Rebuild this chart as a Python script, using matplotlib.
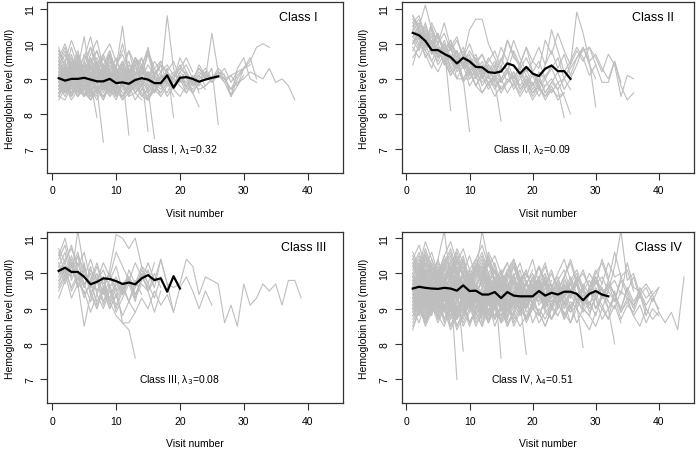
import matplotlib
matplotlib.use("Agg")
import matplotlib.pyplot as plt

plt.rcParams["font.family"] = ["Liberation Sans", "DejaVu Sans"]

# Individual hemoglobin trajectories (mmol/l), one string per patient, visit 1, 2, ...
CLASS_I = [
    "9.9 9.3 8.8 9.5 9.0 8.7 9.4 9.1 8.8 9.3 8.9 8.6 9.2 9.0",
    "8.4 8.7 8.5 8.9 8.6 8.4 8.8 8.5 8.7 8.4 8.9 8.5 8.6 8.8 8.4 8.7 8.5",
    "9.5 9.1 9.6 9.2 8.9 9.4 9.0 9.7 9.2 8.9 9.5 9.1 9.0 9.4 8.8 9.2 9.0 10.8 9.3 8.9 9.1 9.0",
    "8.9 9.1 8.6 9.0 8.8 9.2 8.7 7.2",
    "9.2 8.8 9.0 8.6 9.1 8.9 7.9",
    "9.0 8.7 9.3 8.9 9.1 8.8 9.2 8.6 9.0 8.7 9.1 7.4",
    "8.6 9.0 8.5 8.8 9.2 8.7 8.5 9.0 8.6 8.9 8.4 8.8 9.0 8.5 8.7 7.3",
    "9.4 9.8 9.2 9.6 9.0 9.5 9.3 8.9 9.7 9.2 9.4 9.0 9.6 9.1 7.5",
    "8.8 9.2 8.9 9.4 8.7 9.1 8.9 9.3 8.6 9.0 8.8 9.2 8.9 9.1 8.7 9.0 8.8 9.3 7.9",
    "9.1 8.8 9.3 9.0 8.7 9.2 8.9 9.4 9.0 8.8 9.1 8.7 9.0 9.3 8.9 9.1 8.8 9.0 9.2 8.9 9.1 8.6 8.2",
    "9.0 9.3 8.9 9.1 8.7 9.0 9.4 8.8 9.1 8.9 9.2 9.0 8.8 9.3 9.1 8.9 9.2 8.8 9.0 9.4 9.1 8.9 9.2 9.0 9.3 7.7",
    "9.3 9.0 9.6 9.2 8.8 9.1 9.5 9.0 8.9 9.3 10.5 9.1 8.8 9.2 9.0",
    "8.7 9.0 9.4 8.8 9.1 9.6 8.9 9.2 8.7 9.0 9.3 8.8 9.0 9.4 9.1 8.8 9.0 9.2 8.9 9.1 8.8 9.0 9.3 9.0 10.3 9.2",
    "9.6 10.0 9.4 9.8 9.2 9.7 10.1 9.3 9.6 9.0 9.4 9.8 9.1",
    "8.5 8.8 8.6 9.0 8.5 8.7 8.9 8.4 8.8 8.6 8.5 8.9 8.6 8.4",
    "9.2 9.5 8.9 9.3 10.2 9.0 9.4 8.8 9.2 9.6 9.0 8.9 9.3 9.1 9.7 9.0 8.8 9.2 9.5 9.0 8.9",
    "8.9 8.6 9.1 8.7 8.5 9.0 8.6 8.8 9.2 8.5 8.7 9.0 8.6 8.9 8.4 8.7 8.9 8.5 8.8 9.0 8.6 8.9 8.7 8.8 9.0 9.1 8.9 8.5 8.8 9.3 9.6 9.0",
    "9.4 9.0 9.2 9.7 9.1 8.8 9.3 9.0 9.5 9.2 8.9 9.4 9.1 9.6 9.0 9.3 9.5 9.1 8.8 9.2 9.4 9.0 9.3 9.1 9.0 9.2 9.0 9.1 9.2 9.3 9.5 9.9 10.0 9.9",
    "8.6 8.9 9.3 8.7 9.0 8.5 8.8 9.1 8.6 8.9 9.2 8.7 9.0 8.8 9.1 8.6 8.9 9.2 8.8 9.1 8.7 9.0 8.8 9.2 9.0 9.1 9.0 8.7 8.9 9.0 9.2 9.1 9.0 9.3 8.9 9.0 8.8 8.4",
    "9.8 9.3 9.7 9.0 9.5 9.9 9.2 9.6 9.1 9.4 9.8",
    "8.8 8.5 8.9 8.6 9.0 8.7 8.4 8.8 8.5 8.9 8.6",
    "9.1 9.4 9.0 9.3 8.8 9.2 9.5 9.0 9.3 8.9 9.2 9.0 9.4 8.9 9.1 9.3 8.9 9.1 9.0 9.6 9.2 8.9 9.4 9.1 9.0 9.3 9.1 8.5 9.0 9.3 9.4",
    "8.5 8.4 8.8 8.5 8.7 8.4 8.6 8.9 8.5 8.7 8.4 8.6 8.8 8.5 8.4 8.7",
    "9.0 8.6 9.2 8.8 9.5 8.9 9.1 8.7 9.4 9.0 8.8 9.3 8.9",
    "9.3 9.7 9.1 9.5 8.9 9.3 9.6 9.2 9.8 9.1 9.4 9.0 9.6 9.3 9.9 9.1 9.4 9.2",
    "8.7 9.1 8.8 8.5 9.0 8.6 8.9 9.2 8.7 8.5 9.0 8.8",
    "9.5 9.2 9.9 9.3 9.6 10.2 9.4 9.1 9.7 9.3 10.0 9.2 9.6 9.4 9.8 9.1 9.5",
    "8.9 9.2 8.7 9.0 8.8 8.5 9.1 8.8 9.0 8.6 8.9 9.2 8.7 9.0 8.8 8.6 9.1 8.9 8.7 9.0 8.8 9.1 8.6",
    "9.2 8.9 9.4 9.1 8.7 9.0 9.3 8.9 9.2 8.8 9.1 9.5 9.0 8.8 9.2 9.0 9.4 8.9 9.1 9.0 9.2 8.8 9.1 9.3 9.0 9.2 8.9 9.1 8.8 9.1",
    "8.6 8.8 8.4 8.7 9.0 8.5 8.7 8.4 8.9 8.6 8.5 8.8 8.4 8.7 8.6 8.9 8.5 8.8",
    "9.7 9.4 9.0 9.6 9.2 9.5 9.8 9.3 9.0 9.4 9.7 9.2 9.5 9.1 9.8 9.3",
    "9.0 9.3 8.8 9.1 9.4 8.9 9.2 8.7 9.0 9.3 8.8 9.1 8.9 9.2 9.0",
    "8.8 9.0 9.3 8.9 9.1 8.6 8.9 9.2 8.8 9.0 9.4 8.7 9.0 8.9 9.2 8.8 9.1 9.0 8.7 9.2 9.0 8.6 8.9 9.0",
    "9.4 9.1 9.5 8.9 9.2 9.6 9.0 9.3 9.7 9.1 9.4 9.0 9.5 9.2",
    "8.5 8.9 8.6 8.8 8.5 9.1 8.7 8.5 8.9 8.6 8.8 8.5 9.0 8.7 8.5 8.8 8.6 8.9 8.5",
    "9.1 8.8 9.0 9.3 8.9 9.1 8.7 9.0 9.2 8.8 9.1 8.9",
    "9.6 9.2 9.5 9.1 9.7 9.3 9.0 9.4 9.8 9.2 9.5 9.1 9.6 9.3 9.0 9.5 9.2 9.4 9.1 9.3 9.6 9.2",
    "8.7 8.9 8.5 9.0 8.8 8.6 9.1 8.7 8.9 8.5 8.8 9.0 8.6 8.9 8.7 9.1 8.8 8.6 9.0 8.8 8.6 8.9 9.1 8.8 9.0 9.2 9.1 8.5 9.3 9.6 9.0 8.9",
    "9.3 8.9 9.2 8.8 9.1 9.4 8.9 9.3 9.0 8.7 9.2 9.0 9.4 8.9 9.2 9.0 8.8 9.3",
    "8.9 9.4 9.0 9.6 9.1 8.8 9.3 9.0 9.5 9.1 8.9 9.2",
    "9.0 8.7 9.1 8.8 8.5 8.9 9.2 8.7 9.0 8.6 8.9 9.1 8.8 9.0 8.6 8.9 8.7 9.0 8.8 9.1 8.9 8.7 9.0 9.1 8.9 9.2 9.0 8.7 9.1 9.3",
    "9.5 9.9 9.3 9.7 9.1 9.4 9.8 9.2 9.6 9.0 9.3",
    "8.8 8.6 8.9 8.5 8.8 8.4 8.7 8.9 8.6 8.8 8.5 8.7 8.9 8.6 8.4 8.8 8.6 8.9 8.7 8.5 8.8 8.6 8.9 8.7",
    "9.2 9.0 9.4 9.1 8.9 9.3 9.0 9.2 8.8 9.1 9.3 8.9 9.2 9.0 9.4 9.1 8.9 9.2 9.0 9.3 9.1 8.8 9.0 9.2 8.9 9.1 9.3 8.9 9.2",
    "9.8 9.5 10.1 9.6 9.3 9.9 9.4 9.7 10.0 9.5 9.2 9.8 9.4 9.6",
]

CLASS_II = [
    "10.8 10.5 11.1 10.4 10.0 10.6 9.9 10.2 9.6 10.0 9.5 9.7 9.2 9.5 9.0",
    "10.2 9.9 10.4 9.8 9.5 9.9 8.1",
    "10.5 10.2 9.8 10.1 9.6 9.9 9.3 9.6 9.0 7.5",
    "10.6 10.3 10.0 10.4 9.8 9.5 9.9 9.3 9.6 9.1 9.4 9.0 9.3 8.9 7.8",
    "9.4 10.0 9.7 9.3 9.8 9.5 9.1 9.4 9.0 9.3 8.8 9.2 8.9 9.1 8.7 9.0 8.8 9.1 8.6 8.9 8.5 8.8 9.0 8.7 7.9",
    "10.0 10.4 9.9 10.2 9.7 10.0 9.5 9.8 9.4 9.7 9.2 9.5 9.1 9.4 9.0 9.3 8.9 9.2 8.8 9.1 8.7 9.0 8.6 8.9 8.5 8.0",
    "10.7 10.4 10.1 10.5 10.0 10.3 9.8 10.1 9.6 10.4 10.7 10.7 10.0 9.6 9.2 9.5 9.0 9.3 8.9 9.2 8.8 9.1 9.3 8.9 9.0 9.4 10.9 10.3 9.5 8.2",
    "10.1 9.8 10.3 9.7 9.9 9.4 9.7 9.2 9.5 9.0 9.3 8.8 9.1 8.7 9.0 8.6 8.9 8.5 8.8 8.4 8.7 8.5 8.8 8.4 8.6",
    "10.4 10.1 10.6 10.0 9.7 10.1 9.6 9.3 9.7 9.2 9.5 9.0 9.4 9.1 9.6 9.2 9.8 9.4 9.9 9.5 9.3 10.1 9.7 10.3 9.8 9.4 9.8 9.5 9.9 9.6 9.2 9.7 9.4 8.5 9.1 9.0",
    "9.8 10.2 9.6 9.9 9.4 9.7 9.2 9.5 9.0 9.3 8.8 9.1 8.7 9.0 8.6 8.9 9.2 8.8 9.1 8.7 9.0 8.6 8.9 8.7 9.0 9.3 9.6 9.8 9.9 9.4 8.9 8.9 9.5 8.8 8.4 8.6",
    "10.3 10.0 10.5 9.9 9.6 10.0 9.5 9.8 9.3 9.6 9.1 9.4 9.0 9.3 8.9 9.2 9.0 9.4 9.1 8.8 9.2 9.0 9.4",
    "10.6 10.8 10.2 10.0 10.3 9.8 10.1 9.6 9.9 9.4 9.7 9.2 9.5 9.8 9.3 10.1 9.6 9.4 9.9 9.2 8.9 9.4 10.4 9.8 9.2 9.5 9.9 9.6 9.1 9.4",
    "9.9 9.6 10.0 9.5 9.2 9.6 9.1 9.4 8.9 9.2 8.8 8.6 8.9 9.0 8.7 8.9 9.1 8.7 8.9 8.6 8.8 8.4 8.7 8.5 8.6",
    "10.5 10.7 10.2 9.9 10.3 9.7 10.0 9.5 9.8 9.3 9.6 9.1 9.4 9.2 9.5 10.1 9.7 9.3 9.6 9.2 9.5 9.0 9.3 9.6 9.0 8.7",
    "10.2 10.5 9.9 10.3 9.6 9.9 9.3 9.0 9.4 8.8 9.1 8.6 8.9 8.5 8.8",
    "10.0 10.3 9.8 9.5 9.9 9.4 9.7 9.0 9.0 9.0 9.2 8.9 9.1 8.8 9.0 9.3 8.9 8.6 8.9 8.5 8.8 8.5 8.7",
    "10.8 10.4 10.0 10.6 10.2 9.8 10.1 9.7 9.4 9.8 9.5 9.2 9.6 9.3 9.9 9.5 10.1 9.6 9.2 9.5 9.9 9.4 9.8 9.3 9.7 9.1 9.6 9.9 9.4 9.0",
    "9.6 9.9 10.3 9.7 10.0 9.6 9.9 9.3 9.6 9.2 9.4 9.7 9.3 9.0 9.3 8.9 9.2 8.7 9.0 8.6 8.9 8.8",
    "10.4 10.6 10.1 9.8 10.2 9.7 9.4 9.8 9.3 9.5 9.0 9.3 8.8 9.1 8.9 9.2 8.7 9.0 9.3 8.8 9.1 8.6 8.9 9.2 8.7 9.0 9.4 9.9 9.5 9.7 9.3 9.0 9.5 8.9",
]

CLASS_III = [
    "10.7 10.3 9.9 11.2 10.1 9.6 10.0 9.4 9.8 10.2 9.5 9.9",
    "9.3 9.8 10.3 9.7 8.5 9.4 9.0 9.6 9.2 8.8 8.6 8.4 7.6",
    "10.2 10.6 9.8 10.3 9.7 9.2 9.8 9.5 10.1 11.1 11.0 10.7 11.0 10.2 9.7 9.3 9.9",
    "10.5 11.0 10.2 10.6 9.9 10.4 9.8 10.1 9.6 9.9 9.4 9.8 9.3 9.7 9.5 10.0 9.6",
    "9.8 10.1 9.6 10.0 9.4 9.7 9.2 9.6 9.0 9.4 8.8 9.2 8.9 9.3 9.0 9.5 9.1 9.4 8.9 9.6 9.9 9.5 9.0 9.5 9.1",
    "10.0 10.4 10.7 10.2 10.6 9.8 10.3 9.7 10.0 9.3 9.6 9.9 9.4 9.8 10.1 9.6 10.4 9.7 9.6 9.7 10.4 10.2 9.4 9.9 9.8 9.7 8.6 9.1 8.5 9.7 9.1 9.3 9.7 9.5 9.7 9.1 9.8 9.8 9.3",
    "10.3 9.9 10.5 10.0 9.6 10.2 9.4 9.9 9.1 9.6 8.6 8.6 8.9",
    "9.7 10.2 9.5 9.9 9.3 9.8 9.1 9.5 9.0 9.4 9.7 9.2 9.6 10.0 9.5 8.9 9.5",
    "10.6 10.0 10.4 9.8 10.2 9.5 9.0 9.6 9.3 9.8 9.4 10.1 9.7 10.2 10.0 9.6",
    "9.9 10.3 10.8 10.1 9.7 10.0 9.5 9.9 9.2 9.7 9.4 9.9 9.6 10.1 9.7 10.3",
    "10.1 9.7 10.2 9.6 10.3 9.4 9.8 9.1 9.6 8.9 9.3 9.7 9.2 10.0 9.5 9.8 10.4 9.7 8.9",
    "10.4 10.8 10.0 10.5 9.6 10.1 9.8 10.3 9.9 10.6 10.2 9.8 10.3 9.9 9.6",
    "9.6 10.0 9.3 9.7 9.5 8.9 9.4 9.0 9.5 9.1 9.6 9.2 9.8 9.4",
    "10.2 9.8 10.0 10.5 10.1 9.7 10.2 9.6 10.0 9.5 9.7 9.9 9.4 9.8 10.3 9.8",
    "9.5 9.9 10.3 9.6 10.1 9.4 9.9 9.2 9.7 9.0 9.5 9.8 9.3 9.9 9.6",
]

CLASS_IV = [
    "10.6 10.2 10.9 10.4 10.0 10.5 10.1 10.7 10.3 9.9 10.4 10.0 10.6 10.2",
    "8.4 9.0 8.7 9.2 8.8 8.5 9.1 8.7 9.0 8.6 8.9 8.5 9.2 8.8 9.0 8.6",
    "9.5 9.8 9.3 9.7 9.1 9.6 9.4 9.9 9.2 9.5 9.0 9.4 9.7 9.3 9.6 9.1 9.5 9.8 9.2 9.6 9.4",
    "9.2 9.6 9.0 9.4 8.9 9.3 9.7 7.0",
    "9.8 10.2 9.6 10.0 9.5 9.9 10.3 9.7 7.8",
    "9.6 10.1 9.5 9.9 10.4 11.2 9.8 10.2 9.6 10.0 9.4 9.8 10.3 9.7 7.6",
    "9.0 9.4 8.8 9.3 8.7 9.1 9.5 8.9 9.2 8.6 9.0 9.4 8.8 9.1 8.7 9.3 8.9 9.2 7.7",
    "10.0 9.7 10.3 9.8 10.1 9.6 10.4 9.9 10.2 9.5 10.0 11.2 10.3 9.8 10.1 9.6 9.9 10.3 9.7 10.0 9.5 9.9",
    "9.3 8.9 9.5 9.1 8.8 9.4 9.0 9.6 9.2 8.9 9.3 8.7 9.1 9.5 9.0 8.8 9.2 9.4 8.9 9.1 9.5 9.0 8.7 9.2 9.4 8.9 9.1 7.9",
    "9.7 9.4 9.9 9.5 9.8 9.3 9.6 10.0 9.4 9.7 9.2 9.6 9.9 9.3 9.5 9.8 9.1 9.4 9.7 9.3 9.6 9.0 9.5 9.8 9.2 9.4 9.7 9.1 9.5 9.3 9.6 9.0 8.0",
    "9.4 9.7 9.1 9.5 9.9 9.2 9.6 9.0 9.4 9.8 9.3 9.0 9.5 9.1 9.7 9.3 9.6 9.2 9.5 9.9 9.4 9.7 9.1 9.6 9.3 9.8 9.2 9.5 9.4 9.7 9.9 9.5 10.2 11.2 9.8 10.0 9.4 9.6 9.2 9.6",
    "8.9 9.3 8.6 9.1 8.8 9.4 8.5 9.0 8.7 9.2 8.6 8.9 9.3 8.7 9.0 8.5 8.9 9.2 8.6 9.0 8.8 9.3 8.7 9.1 8.9 8.6 9.2 9.0 8.8 9.4 9.1 8.7 9.5 8.9 9.3 8.8 8.5 9.0 8.7 8.9 8.6 8.9 8.4 9.9",
    "10.3 9.9 10.5 10.0 9.7 10.2 9.8 10.4 9.9 10.1 9.6 10.0 10.5 9.8",
    "9.1 9.5 9.8 9.2 9.6 9.0 9.4 9.7 9.1 9.5 9.0 9.3 8.8 9.2 9.6 9.0 9.4 8.9 9.3",
    "9.9 9.5 10.1 9.7 10.4 9.8 10.2 9.6 10.0 9.4 9.9 10.3 9.7 10.1 9.5 9.8 10.2 9.6 9.9 10.4 9.7 10.0 9.4 9.8 10.1 9.5 9.9",
    "8.7 9.1 8.5 8.9 9.2 8.6 9.0 8.4 8.8 9.1 8.5 8.9 8.7 9.2 8.6 8.8",
    "9.6 9.2 9.8 9.4 9.1 9.7 9.3 9.9 9.5 9.0 9.4 9.8 9.2 9.6 9.1 9.5 9.3 9.7 9.0 9.4 9.8 9.2 9.5 9.1 9.6 9.3 9.7 9.0 9.4 9.8 9.3 9.5",
    "10.1 10.5 9.9 10.3 9.8 10.2 10.6 10.0 10.4 9.7 10.1 10.5 9.9 10.2 9.6 10.0 10.4 9.8 10.1",
    "9.3 9.0 9.6 9.2 8.8 9.4 9.1 8.7 9.5 9.0 9.3 8.9 9.4 9.0 8.6 9.2 9.5 8.9 9.1 9.4 8.8 9.2 9.0 9.5 8.7 9.1 9.3 8.9 9.2 8.8 9.4 9.0 9.3 8.7 9.1 8.9 9.4 9.0",
    "9.8 9.4 9.9 9.5 10.0 9.6 9.2 9.7 9.3 9.8 9.4 9.9 9.5 9.1 9.6 9.3 9.8 9.4 9.0 9.5 9.9 9.3 9.6 9.2 9.7 9.4 9.8 9.2 9.5 9.9 9.3 9.6 9.8 9.4 10.3 9.6 9.5 9.7 9.4 9.6",
    "9.0 9.3 8.7 9.2 8.9 9.5 8.8 9.1 8.6 9.0 9.4 8.8 9.2 8.5 9.0 9.3 8.7 9.1",
    "10.4 10.0 10.6 10.1 9.8 10.3 9.9 10.5 10.0 9.7 10.2 9.8 10.4 10.0 9.6 10.1",
    "9.5 9.1 9.7 9.3 9.0 9.6 9.2 9.8 9.4 9.1 9.5 9.0 9.6 9.2 9.4 8.9 9.3 9.7 9.1 9.5 9.2 9.6 9.0 9.4",
    "9.2 9.6 9.1 9.5 9.8 9.3 9.7 9.0 9.4 9.9 9.2 9.6 9.1 9.5 9.8 9.3 9.7 9.0 9.5 9.2 9.6 9.9 9.3 9.7 9.1 9.5 9.8 9.2 9.6 9.0 9.4 9.7 9.2 9.9 9.5 9.1 9.4 8.8 9.3 9.0",
    "9.9 10.3 9.7 10.1 9.6 10.0 9.5 9.9 10.4 9.8 10.2 9.6 10.0 9.5 9.9 10.3 9.7",
    "8.8 9.2 8.6 9.0 9.4 8.7 9.1 8.5 8.9 9.3 8.7 9.0 8.6 9.1 8.8 9.2 8.5 8.9 9.3 8.6 9.0 8.7 9.1 8.8",
    "9.7 9.3 9.9 9.5 9.2 9.8 9.4 10.0 9.6 9.3 9.7 9.1 9.5 9.9 9.4 9.7 9.2 9.6 9.0 9.5 9.8 9.3 9.6 9.1 9.5 9.9 9.4 9.6 9.1 9.5",
    "9.4 9.8 9.2 9.6 9.0 9.5 9.9 9.3 9.7 9.1 9.4 9.8 9.2 9.5 9.0",
    "10.2 9.8 10.4 9.9 10.3 9.7 10.1 9.6 10.0 10.5 9.9 10.2 9.7 10.1 9.5 9.9 10.3 9.8 10.0 9.6 10.2 9.7 10.1 9.5 9.9 10.4 9.8 10.0 9.6 10.1 9.7 10.3 9.9 10.0",
    "9.0 8.6 9.2 8.8 9.5 8.9 9.3 8.7 9.1 8.5 9.0 9.4 8.8 9.2 8.6 9.0 8.8 9.3 8.7 9.1 8.9 8.5 9.0 9.2 8.7 9.1 8.6 9.0 8.8 8.5 9.0 8.7 9.1 8.6",
    "9.5 9.9 9.3 9.7 9.1 9.6 9.2 9.8 9.4 9.0 9.5 9.3 9.8 9.2 9.6 9.1",
    "9.8 9.5 10.0 9.6 9.3 9.9 9.4 10.1 9.7 9.2 9.6 10.0 9.5 9.8 9.3 9.7 9.4 9.9 9.5 9.2 9.7 9.4 9.8",
    "9.1 9.5 8.9 9.3 9.7 9.0 9.4 8.8 9.2 9.6 9.0 9.3 8.9 9.4 9.1 8.7 9.2 9.5 9.0",
    "10.0 9.6 10.2 9.8 9.5 10.1 9.7 10.3 9.9 9.4 9.8 10.2 9.6 9.9 9.5 10.0 9.7 10.1 9.4 9.8 10.2 9.6 10.0 9.5 9.9 10.3 9.7 10.1 9.6 10.0 10.3 9.8 10.6 9.9 10.1 9.5",
    "8.9 9.2 8.6 9.0 8.8 9.3 8.7 9.1 8.5 8.9 9.2 8.6 9.0 8.8 9.3 8.7",
    "9.6 9.3 9.8 9.4 9.9 9.5 9.1 9.7 9.3 9.8 9.4 9.0 9.6 9.2 9.7 9.3 9.9 9.4 9.1 9.6 9.3 9.8 9.2 9.5 9.9 9.4 9.1 9.6",
    "9.3 9.7 9.1 9.5 9.0 9.4 9.8 9.2 9.6 9.1 9.5 8.9 9.3 9.7 9.2 9.5 9.0 9.4",
    "10.5 10.1 10.7 10.2 9.9 10.4 10.0 10.6 10.1 9.8 10.3 9.9 10.5 10.0",
    "9.2 8.9 9.4 9.0 9.6 9.1 8.8 9.3 8.9 9.5 9.0 9.2 8.7 9.1 9.4 8.9 9.2 8.8 9.3 9.0 9.4 8.9 9.1 9.5 8.8 9.2 9.0 9.4 8.9 9.3 8.7 9.0 9.4 8.9 9.2 8.8 9.1 8.6 9.0 8.8",
    "9.7 10.1 9.5 9.9 9.4 9.8 10.2 9.6 10.0 9.3 9.7 10.1 9.5 9.8 9.2 9.6 10.0 9.4 9.7 10.1",
    "9.4 9.0 9.6 9.2 9.8 9.3 8.9 9.5 9.1 9.7 9.2 8.8 9.4 9.0 9.6 9.1 9.5 8.9 9.3 9.7 9.1 9.4 9.0 9.5 9.2 8.9 9.4 9.1 9.6 9.0 9.3",
    "8.6 9.0 8.8 9.3 8.7 9.1 8.5 8.9 9.2 8.6 9.0 8.8 9.4 8.7 9.1 8.5 8.9 9.3 8.7 9.0",
    "10.2 10.6 10.0 10.4 9.9 10.3 10.7 10.1 10.5 9.8 10.2 10.6 10.0 10.3 9.7 10.1 10.4 9.9",
    "9.5 9.2 9.7 9.3 9.9 9.4 9.0 9.6 9.2 9.8 9.3 9.5 9.1 9.7 9.2 9.6 9.0 9.4 9.8 9.3 9.6 9.1 9.5 9.0 9.4 9.7 9.2 9.5 9.0 9.3 9.6 9.2 9.0 9.5 9.3 9.1 9.4 9.0",
    "9.9 9.6 10.1 9.7 9.3 9.8 9.5 10.0 9.6 9.2 9.7 9.4 9.9 9.5 9.1 9.6 9.3 9.8 9.4 9.9 9.5 9.2",
    "9.0 9.4 9.7 9.1 9.5 8.9 9.3 9.6 9.0 9.4 8.8 9.2 9.6 9.0 9.3",
    "9.3 9.6 9.1 9.5 9.2 9.7 9.0 9.4 9.8 9.2 9.5 9.0 9.4 9.7 9.1 9.5 9.2 9.6 9.0 9.4 9.7 9.1 9.5 9.3 9.7 9.0 9.4 9.1 9.6 9.3 9.0 9.5 9.2 9.8 9.4 9.0 9.6 9.3 9.5",
    "10.4 10.8 10.2 10.6 10.0 10.5 10.9 10.3 10.7 10.1 10.4 10.8 10.2 10.5 10.0 10.3",
    "8.5 8.9 8.7 9.1 8.6 9.0 8.4 8.8 9.2 8.6 8.9 8.5 9.0 8.7 9.1 8.6 8.9 8.5 8.8 9.1 8.6 8.9 8.7 9.0",
    "9.6 10.0 9.4 9.8 10.2 9.5 9.9 9.3 9.7 10.1 9.4 9.8 9.2 9.6 10.0 9.5 9.9 9.3 9.7 9.4 9.8 10.2 9.6 9.9 9.3 9.7 10.0 9.5 9.8 9.4 9.7",
    "9.2 9.5 8.9 9.4 9.0 9.6 9.1 8.8 9.3 9.7 9.0 9.4 8.9 9.2 9.6 9.0 9.3",
    "9.8 9.4 10.0 9.6 9.2 9.7 9.3 9.9 9.5 9.1 9.6 9.2 9.8 9.4 9.9 9.5 9.1 9.7 9.3 9.8 9.4 9.0 9.6 9.2 9.7 9.3 9.9 9.5 9.1 9.6 9.3 9.8 9.4 9.0 9.5 9.9 9.3",
    "10.0 10.4 9.8 10.2 9.7 10.1 10.5 9.9 10.3 9.6 10.0 10.4 9.8 10.1 9.5 9.9 10.3 9.7 10.0 9.6 10.2 9.8",
    "9.1 8.8 9.3 8.9 9.5 9.0 8.7 9.2 8.8 9.4 8.9 9.1 8.6 9.0 9.3 8.8 9.2",
    "9.7 9.4 9.9 9.5 10.1 9.6 9.3 9.8 9.4 10.0 9.5 9.2 9.7 9.3 9.9 9.4 9.8 9.5 9.1 9.6 9.9 9.4 9.7 9.3 9.8 9.5 9.2 9.7 9.4 9.9 9.5 9.2",
    "9.4 9.1 9.6 9.2 9.8 9.3 9.0 9.5 9.1 9.7 9.2 8.9 9.4 9.0 9.6 9.1 9.5 9.0 9.3",
    "10.3 9.9 10.5 10.0 9.6 10.2 9.8 10.4 9.9 9.5 10.1 9.7 10.3 9.8 10.0 9.6 10.2 9.7 10.1 9.5 9.9 10.3 9.6 10.0 10.4 9.8 10.1 9.6 10.0 9.7 10.4 9.9",
    "8.8 9.1 8.6 9.0 9.3 8.7 9.2 8.5 8.9 9.2 8.7 9.0 8.6 9.1 8.8 9.3 8.6 9.0 8.7 9.2 8.9 8.5 9.0 8.8 9.2 8.6 9.0 8.7 8.4 8.9",
    "9.6 9.9 9.4 9.8 9.2 9.7 10.0 9.5 9.9 9.3 9.6 10.0 9.4 9.8 9.2 9.6 9.9 9.4 9.7 9.1 9.5 9.8 9.3 9.7 9.0 9.4 9.8 9.2 9.6 9.9 9.3 9.7 9.4 9.0 9.6 9.2 9.5 9.1 9.4 8.9",
    "9.3 9.7 9.0 9.5 9.1 9.6 9.2 9.8 9.4 9.0 9.5 9.1 9.7 9.3 9.0 9.4 9.8 9.2 9.5 9.1",
]

# Class mean trajectories (black lines)
MEAN_I = [9.02, 8.95, 9.0, 9.0, 9.03, 8.98, 8.93, 8.93, 9.0, 8.88, 8.9, 8.86, 8.97,
          9.02, 8.98, 8.88, 8.88, 9.1, 8.75, 9.03, 9.05, 9.0, 8.92, 8.98, 9.03, 9.07]
MEAN_II = [10.31, 10.24, 10.08, 9.82, 9.82, 9.71, 9.62, 9.44, 9.6, 9.5, 9.34, 9.33, 9.19,
           9.17, 9.21, 9.44, 9.38, 9.15, 9.34, 9.15, 9.08, 9.29, 9.38, 9.22, 9.22, 9.0]
MEAN_III = [10.07, 10.16, 10.04, 10.04, 9.9, 9.69, 9.76, 9.86, 9.84, 9.78, 9.7, 9.74,
            9.69, 9.86, 9.95, 9.81, 9.86, 9.48, 9.92, 9.57]
MEAN_IV = [9.57, 9.62, 9.59, 9.57, 9.56, 9.59, 9.57, 9.51, 9.66, 9.5, 9.51, 9.4, 9.4,
           9.47, 9.3, 9.47, 9.37, 9.35, 9.35, 9.35, 9.5, 9.37, 9.45, 9.4, 9.48, 9.48,
           9.42, 9.24, 9.42, 9.5, 9.4, 9.35]

TITLES = ["Class I", "Class II", "Class III", "Class IV"]
NOTES = [r"Class I, λ$_1$=0.32", r"Class II, λ$_2$=0.09",
         r"Class III, λ$_3$=0.08", r"Class IV, λ$_4$=0.51"]
TITLE_X = [38.5, 39.0, 39.3, 40.0]

W, H = 700, 452
# axes boxes in pixels: left, top, right, bottom
BOXES = [(47.5, 3.3, 342.7, 174.0), (401.7, 3.3, 693.5, 174.0),
         (47.5, 232.7, 342.7, 404.3), (401.7, 232.7, 693.5, 404.3)]

fig = plt.figure(figsize=(W / 100, H / 100), dpi=100)
dark = "#333333"

for i, (trajs, mean) in enumerate(zip([CLASS_I, CLASS_II, CLASS_III, CLASS_IV],
                                       [MEAN_I, MEAN_II, MEAN_III, MEAN_IV])):
    l, t, r, b = BOXES[i]
    ax = fig.add_axes([l / W, 1 - b / H, (r - l) / W, (b - t) / H])
    for s in trajs:
        y = [float(v) for v in s.split()]
        ax.plot(range(1, len(y) + 1), y, color="#BEBEBE", lw=0.8)
    ax.plot(range(1, len(mean) + 1), mean, color="black", lw=1.6)

    ax.set_xlim(-0.75, 45.5)
    ax.set_ylim(6.32, 11.18)
    ax.set_xticks([0, 10, 20, 30, 40])
    ax.set_yticks([7, 8, 9, 10, 11])
    ax.tick_params(direction="out", length=5, width=0.8, color=dark,
                   labelsize=7.5, pad=4)
    plt.setp(ax.get_yticklabels(), rotation=90, va="center")
    for sp in ax.spines.values():
        sp.set_color(dark)
        sp.set_linewidth(0.9)
    ax.set_xlabel("Visit number", fontsize=7.5, labelpad=9)
    ax.set_ylabel("Hemoglobin level (mmol/l)", fontsize=7.5, labelpad=7)
    ax.text(TITLE_X[i], 10.76, TITLES[i], fontsize=9, ha="center", va="center")
    ax.text(20, 7.0, NOTES[i], fontsize=7.5, ha="center", va="center")

fig.savefig("out.png", dpi=100)
